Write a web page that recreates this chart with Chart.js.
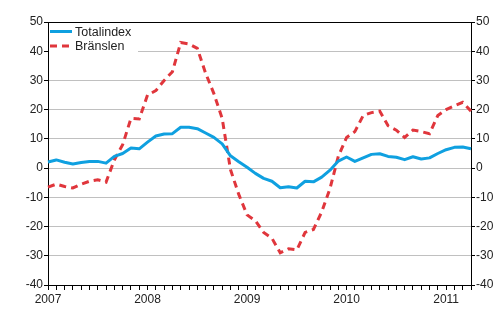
<!DOCTYPE html>
<html>
<head>
<meta charset="utf-8">
<script src="https://cdn.jsdelivr.net/npm/chart.js@4"></script>
<style>
  html, body { margin: 0; padding: 0; background: #fff; }
  #wrap { width: 500px; height: 330px; }
</style>
</head>
<body>
<div id="wrap"><canvas id="grafico" width="500" height="330"></canvas></div>
<script>
// Månader jan 2007 - apr 2011
const years = [2007, 2008, 2009, 2010, 2011];
const months = [];
years.forEach(y => {
  for (let m = 1; m <= 12; m++) {
    if (y === 2011 && m > 4) break;
    months.push(y + "-" + m);
  }
});

const totalindex = [
  2.1, 2.8, 2.0, 1.4, 1.9, 2.3, 2.3, 1.7, 4.0, 5.0, 6.9, 6.6,
  8.9, 11.0, 11.7, 11.8, 14.0, 14.0, 13.5, 12.0, 10.5, 8.3, 4.2, 2.2,
  0.3, -1.8, -3.5, -4.5, -6.7, -6.4, -6.8, -4.5, -4.7, -3.1, -0.7, 2.4,
  3.8, 2.3, 3.5, 4.7, 4.9, 4.0, 3.7, 2.9, 3.9, 3.1, 3.5, 5.0,
  6.3, 7.1, 7.2, 6.6
];

const branslen = [
  -6.5, -5.5, -6.3, -6.8, -5.5, -4.5, -4.0, -4.8, 2.8, 8.0, 17.0, 16.8,
  25.0, 26.5, 30.0, 33.0, 43.0, 42.5, 41.0, 32.5, 25.5, 17.0, -0.5, -9.0,
  -16.0, -18.0, -22.0, -24.0, -29.0, -27.6, -28.0, -22.0, -21.0, -15.0, -7.0, 4.0,
  10.5, 12.5, 18.0, 19.0, 19.5, 14.5, 13.0, 10.5, 13.0, 12.5, 11.8, 18.0,
  20.0, 21.3, 22.5, 19.5
];

const seriesNames = ["Totalindex", "Bränslen"];
const yTicks = { min: -40, max: 50, step: 10 };

const fontFam = '"Liberation Sans", Arial, sans-serif';
const blue = "#0fa0e0";
const red = "#e0363c";

// legend inne i diagrammet, med vit bakgrund
const legendInside = {
  id: "legendInside",
  beforeDatasetsDraw(chart) {
    const { ctx, chartArea } = chart;
    ctx.save();
    ctx.fillStyle = "#fff";
    ctx.fillRect(chartArea.left + 1, chartArea.top + 1, 89, 33);
    ctx.restore();
  },
  afterDatasetsDraw(chart) {
    const { ctx, chartArea } = chart;
    ctx.save();
    chart.data.datasets.forEach((ds, i) => {
      const y = chartArea.top + 9.5 + i * 14.5;
      ctx.strokeStyle = ds.borderColor;
      ctx.lineWidth = 3;
      ctx.setLineDash(ds.borderDash || []);
      ctx.beginPath();
      ctx.moveTo(chartArea.left + 2, y);
      ctx.lineTo(chartArea.left + 24, y);
      ctx.stroke();
      ctx.setLineDash([]);
      ctx.fillStyle = "#222";
      ctx.font = "12.5px " + fontFam;
      ctx.textBaseline = "middle";
      ctx.fillText(ds.label, chartArea.left + 27, y + 1);
    });
    ctx.restore();
  }
};

const ctx = document.getElementById("grafico").getContext("2d");
new Chart(ctx, {
  type: "line",
  data: {
    labels: months,
    datasets: [
      {
        label: seriesNames[0],
        data: totalindex,
        borderColor: blue,
        borderWidth: 3,
        pointRadius: 0,
        tension: 0,
        borderJoinStyle: "round",
        yAxisID: "y"
      },
      {
        label: seriesNames[1],
        data: branslen,
        borderColor: red,
        borderWidth: 3,
        borderDash: [7, 5],
        pointRadius: 0,
        tension: 0,
        yAxisID: "y"
      }
    ]
  },
  options: {
    responsive: false,
    animation: false,
    devicePixelRatio: 1,
    layout: { padding: { top: 22, left: 0, right: 0, bottom: 0 } },
    plugins: {
      legend: { display: false },
      tooltip: { enabled: false },
      title: { display: false }
    },
    scales: {
      x: {
        offset: false,
        grid: {
          display: true,
          drawOnChartArea: false,
          drawTicks: true,
          tickLength: 5,
          color: "#000",
          offset: false
        },
        border: { display: true, color: "#000", width: 1 },
        ticks: {
          autoSkip: false,
          maxRotation: 0,
          minRotation: 0,
          padding: 2,
          color: "#222",
          font: { family: fontFam, size: 12 },
          callback: function (val, idx) {
            const lab = months[idx];
            return lab.endsWith("-1") ? lab.split("-")[0] : "";
          }
        },
        afterFit: s => { s.height = 45; }
      },
      y: {
        position: "left",
        min: yTicks.min,
        max: yTicks.max,
        grid: {
          color: c => (c.tick && c.tick.value === yTicks.max ? "#000" : "#c0c0c0"),
          tickColor: "#000",
          tickLength: 4,
          drawTicks: true
        },
        border: { display: true, color: "#000", width: 1 },
        ticks: {
          stepSize: yTicks.step,
          padding: 1,
          color: "#222",
          font: { family: fontFam, size: 12 }
        },
        afterFit: s => { s.width = 48; }
      },
      y2: {
        position: "right",
        min: yTicks.min,
        max: yTicks.max,
        grid: {
          drawOnChartArea: false,
          tickColor: "#000",
          tickLength: 4,
          drawTicks: true
        },
        border: { display: true, color: "#000", width: 1 },
        ticks: {
          stepSize: yTicks.step,
          padding: 1,
          color: "#222",
          font: { family: fontFam, size: 12 }
        },
        afterFit: s => { s.width = 29; }
      }
    }
  },
  plugins: [legendInside]
});
</script>
</body>
</html>
